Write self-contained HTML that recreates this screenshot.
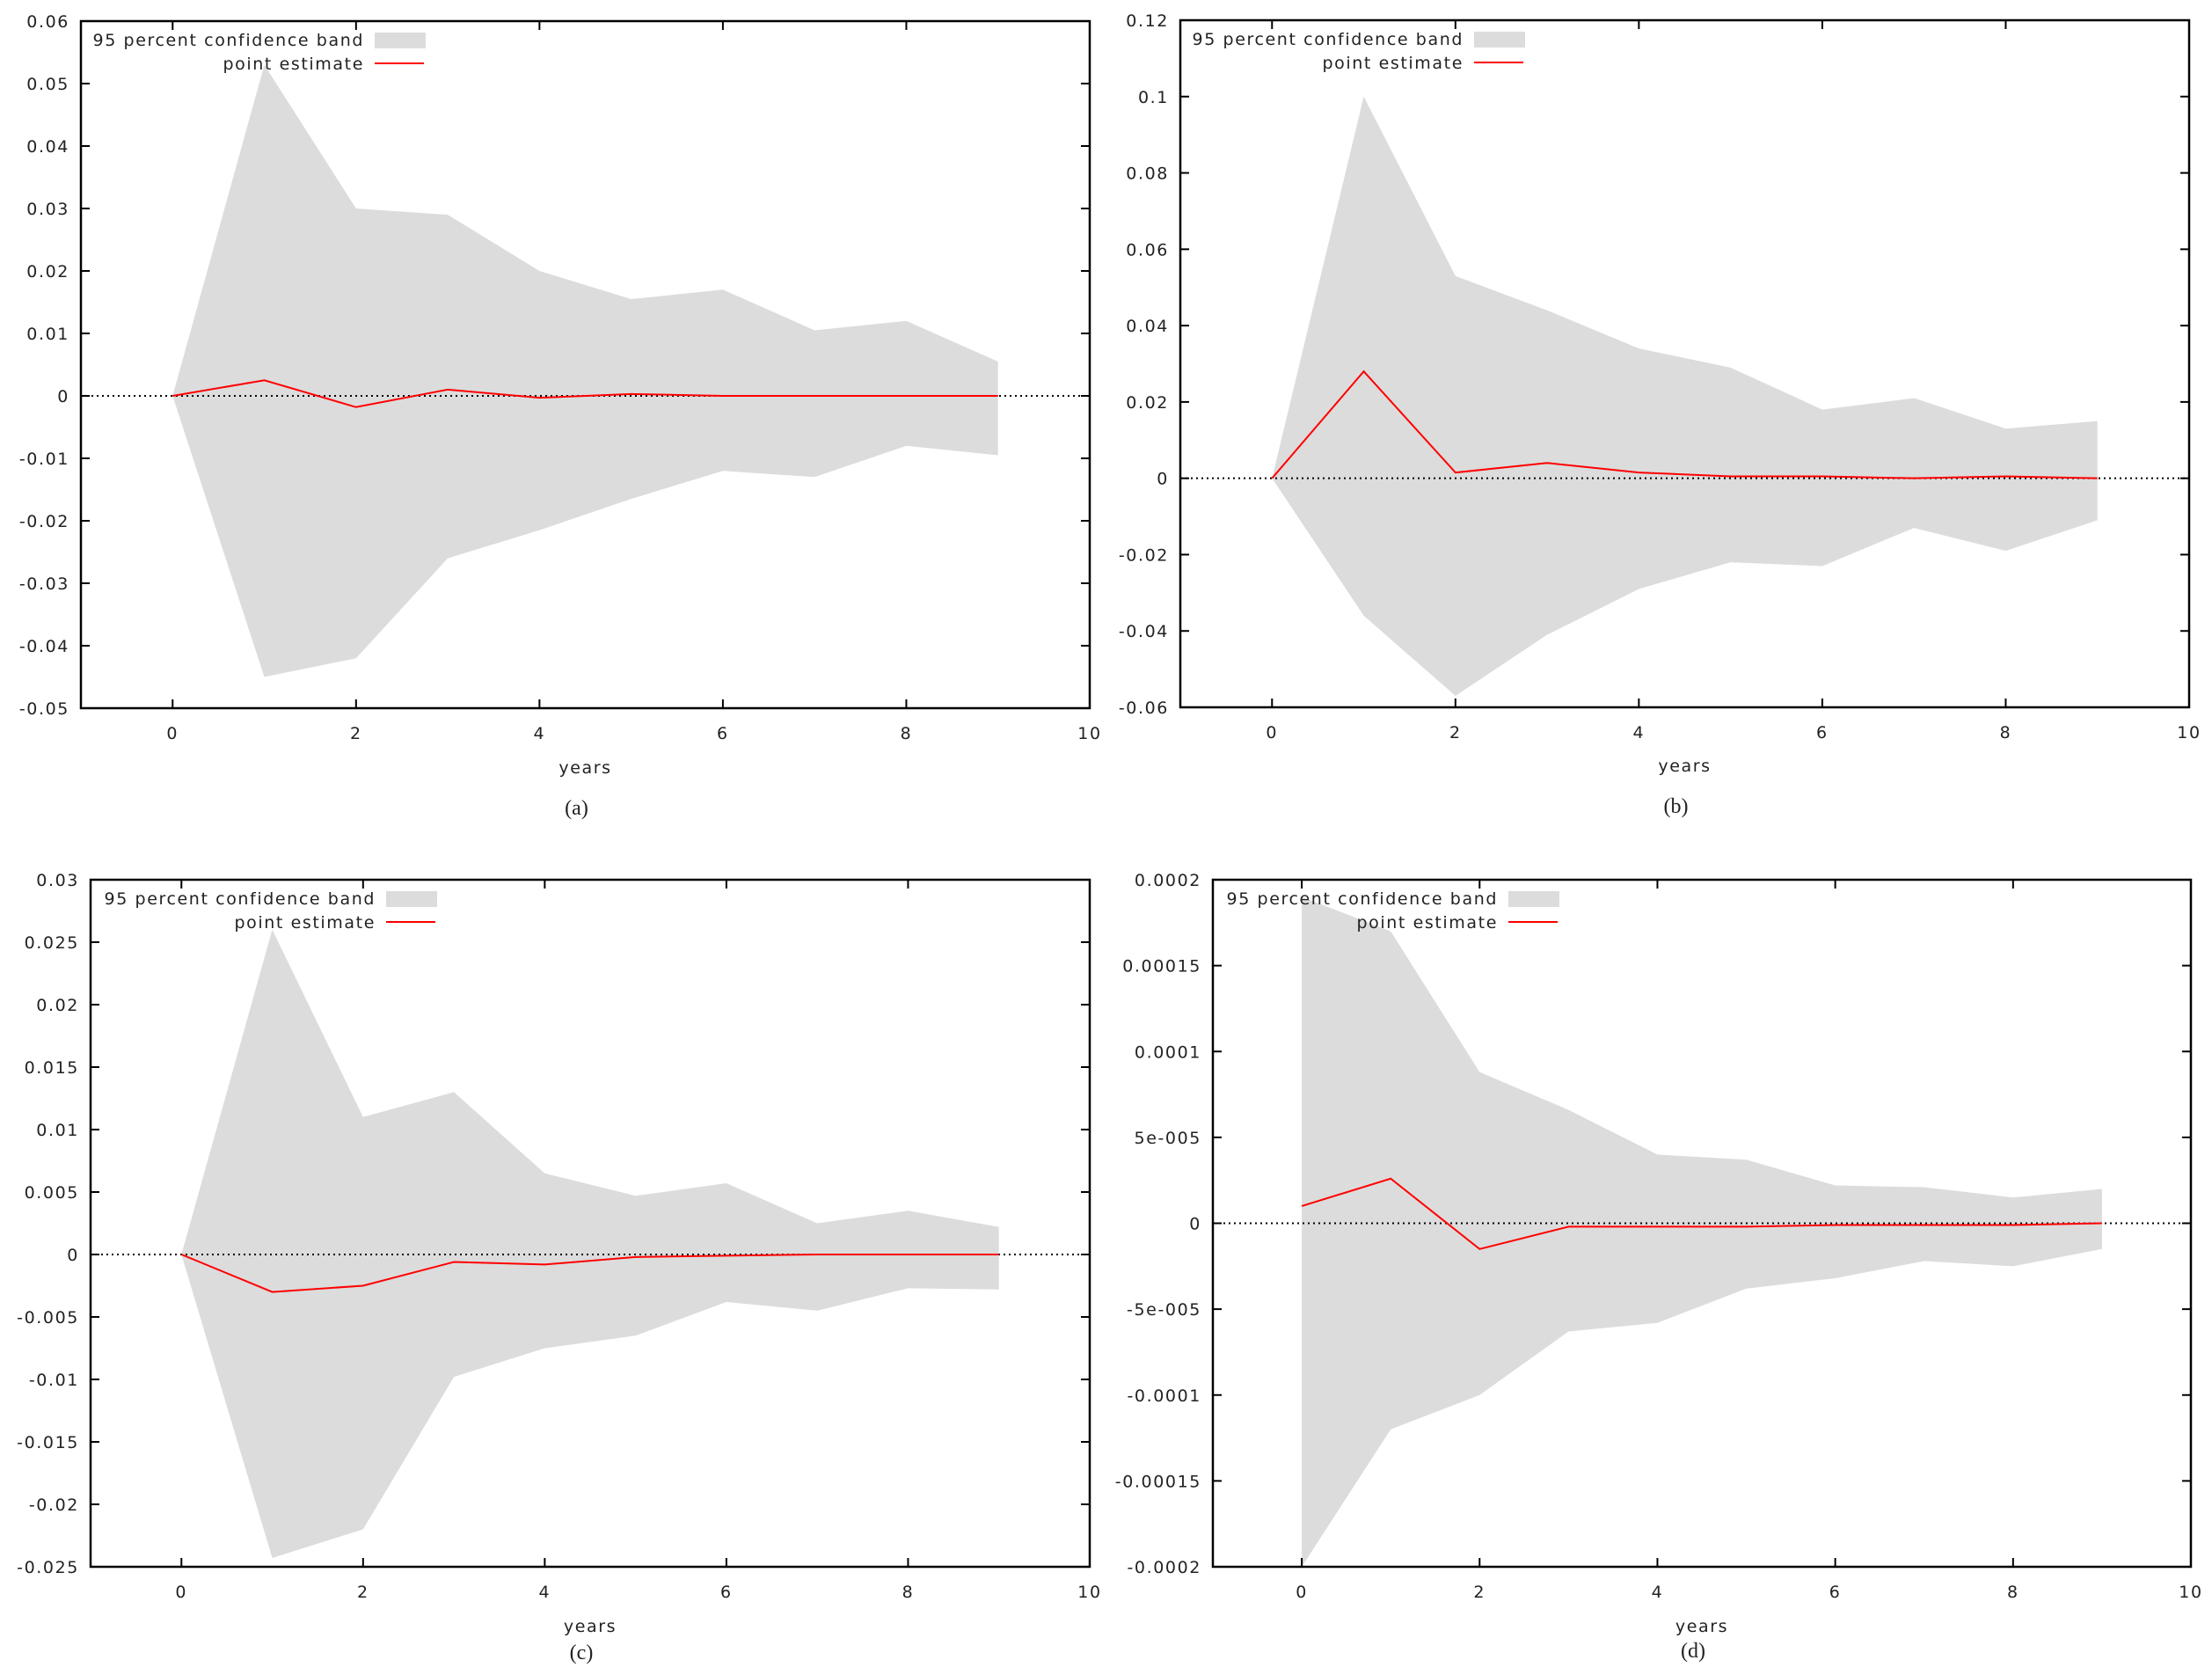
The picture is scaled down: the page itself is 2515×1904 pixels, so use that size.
<!DOCTYPE html>
<html><head><meta charset="utf-8">
<style>
html,body{margin:0;padding:0;background:#fff;}
svg{display:block;}
text{font-family:"DejaVu Sans","Liberation Sans",sans-serif;fill:#222;letter-spacing:1.6px;}
</style></head>
<body>
<svg id="fig" width="2515" height="1904" viewBox="0 0 2515 1904" xmlns="http://www.w3.org/2000/svg"></svg>
<script>
const years = [0,1,2,3,4,5,6,7,8,9];
const xTicks = [0,2,4,6,8,10];

const upperA = [0,0.053,0.030,0.029,0.020,0.0155,0.017,0.0105,0.012,0.0055];
const lowerA = [0,-0.045,-0.042,-0.026,-0.0215,-0.0165,-0.012,-0.013,-0.008,-0.0095];
const pointA = [0,0.0025,-0.0018,0.001,-0.0003,0.0003,0,0,0,0];
const yTicksA = [-0.05,-0.04,-0.03,-0.02,-0.01,0,0.01,0.02,0.03,0.04,0.05,0.06];
const yLabelsA = ["-0.05","-0.04","-0.03","-0.02","-0.01","0","0.01","0.02","0.03","0.04","0.05","0.06"];

const upperB = [0,0.100,0.053,0.044,0.034,0.029,0.018,0.021,0.013,0.015];
const lowerB = [0,-0.036,-0.057,-0.041,-0.029,-0.022,-0.023,-0.013,-0.019,-0.011];
const pointB = [0,0.028,0.0015,0.004,0.0015,0.0005,0.0005,0,0.0005,0];
const yTicksB = [-0.06,-0.04,-0.02,0,0.02,0.04,0.06,0.08,0.1,0.12];
const yLabelsB = ["-0.06","-0.04","-0.02","0","0.02","0.04","0.06","0.08","0.1","0.12"];

const upperC = [0,0.026,0.011,0.013,0.0065,0.0047,0.0057,0.0025,0.0035,0.0022];
const lowerC = [0,-0.0243,-0.022,-0.0098,-0.0075,-0.0065,-0.0038,-0.0045,-0.0027,-0.0028];
const pointC = [0,-0.003,-0.0025,-0.0006,-0.0008,-0.0002,-0.0001,0,0,0];
const yTicksC = [-0.025,-0.02,-0.015,-0.01,-0.005,0,0.005,0.01,0.015,0.02,0.025,0.03];
const yLabelsC = ["-0.025","-0.02","-0.015","-0.01","-0.005","0","0.005","0.01","0.015","0.02","0.025","0.03"];

const upperD = [0.00019,0.00017,0.000088,0.000066,0.00004,0.000037,0.000022,0.000021,0.000015,0.00002];
const lowerD = [-0.0002,-0.00012,-0.0001,-0.000063,-0.000058,-0.000038,-0.000032,-0.000022,-0.000025,-0.000015];
const pointD = [0.00001,0.000026,-0.000015,-0.000002,-0.000002,-0.000002,-0.000001,-0.000001,-0.000001,0];
const yTicksD = [-0.0002,-0.00015,-0.0001,-0.00005,0,0.00005,0.0001,0.00015,0.0002];
const yLabelsD = ["-0.0002","-0.00015","-0.0001","-5e-005","0","5e-005","0.0001","0.00015","0.0002"];

const NS = "http://www.w3.org/2000/svg";
const fig = document.getElementById('fig');
function mk(tag, attrs, parent){
  const e = document.createElementNS(NS, tag);
  for (const k in attrs) e.setAttribute(k, attrs[k]);
  parent.appendChild(e);
  return e;
}

function panel(cfg){
  const g = mk('g', {}, fig);
  
  
  const L=cfg.l, R=cfg.r, T=cfg.t, B=cfg.b;
  const xs = v => L + (v - (-1)) / 11 * (R - L);
  const ys = v => B - (v - cfg.ymin) / (cfg.ymax - cfg.ymin) * (B - T);

  let d = '';
  years.forEach((x,i)=>{ d += (i?'L':'M') + xs(x) + ' ' + ys(cfg.upper[i]) + ' '; });
  for (let i = years.length-1; i >= 0; i--) d += 'L' + xs(years[i]) + ' ' + ys(cfg.lower[i]) + ' ';
  d += 'Z';
  const band = mk('path', {d:d, fill:'#dcdcdc', stroke:'none'}, g);
  
  

  const zl = mk('line', {x1:L, x2:R, y1:ys(0), y2:ys(0), stroke:'#000', 'stroke-width':2, 'stroke-dasharray':'2 4'}, g);
  
  

  const pts = years.map((x,i)=> xs(x) + ',' + ys(cfg.point[i])).join(' ');
  const pl = mk('polyline', {points:pts, fill:'none', stroke:'#ff0000', 'stroke-width':2}, g);
  
  

  const fr = mk('rect', {x:L, y:T, width:R-L, height:B-T, fill:'none', stroke:'#000', 'stroke-width':2.5}, g);
  
  

  cfg.yticks.forEach((v,i)=>{
    const y = ys(v);
    mk('line', {x1:L, x2:L+10, y1:y, y2:y, stroke:'#000', 'stroke-width':2}, g);
    mk('line', {x1:R, x2:R-10, y1:y, y2:y, stroke:'#000', 'stroke-width':2}, g);
    const t = mk('text', {x:L-13, y:y+7, 'text-anchor':'end', 'font-size':19}, g);
    t.textContent = cfg.ylabels[i];
    
    
  });
  xTicks.forEach(v=>{
    const x = xs(v);
    mk('line', {x1:x, x2:x, y1:B, y2:B-10, stroke:'#000', 'stroke-width':2}, g);
    mk('line', {x1:x, x2:x, y1:T, y2:T+10, stroke:'#000', 'stroke-width':2}, g);
    const t = mk('text', {x:x, y:B+35, 'text-anchor':'middle', 'font-size':19}, g);
    t.textContent = String(v);
    
    
  });
  const xt = mk('text', {x:(L+R)/2, y:cfg.yearsY, 'text-anchor':'middle', 'font-size':19}, g);
  xt.textContent = 'years';
  
  
  const cap = mk('text', {x:(L+R)/2 - 10, y:cfg.capY, 'text-anchor':'middle', 'font-size':24, style:'font-family:"Liberation Serif",serif;letter-spacing:0'}, g);
  cap.textContent = '(' + cfg.id + ')';
  
  

  const lx = cfg.legX, ly = T + 21;
  const l1 = mk('text', {x:lx, y:ly+7, 'text-anchor':'end', 'font-size':19}, g);
  l1.textContent = '95 percent confidence band';
  
  
  const sw = mk('rect', {x:lx+12, y:ly-8, width:58, height:18, fill:'#dcdcdc'}, g);
  
  
  const l2 = mk('text', {x:lx, y:ly+34, 'text-anchor':'end', 'font-size':19}, g);
  l2.textContent = 'point estimate';
  
  
  const ls = mk('line', {x1:lx+12, x2:lx+68, y1:ly+27, y2:ly+27, stroke:'#ff0000', 'stroke-width':2}, g);
  
  
}

panel({id:'a', l:92, r:1239, t:24, b:805, ymin:-0.05, ymax:0.06, upper:upperA, lower:lowerA, point:pointA, yticks:yTicksA, ylabels:yLabelsA, yearsY:879, capY:926, legX:414});
panel({id:'b', l:1342, r:2489, t:23, b:804, ymin:-0.06, ymax:0.12, upper:upperB, lower:lowerB, point:pointB, yticks:yTicksB, ylabels:yLabelsB, yearsY:877, capY:924, legX:1664});
panel({id:'c', l:103, r:1239, t:1000, b:1781, ymin:-0.025, ymax:0.03, upper:upperC, lower:lowerC, point:pointC, yticks:yTicksC, ylabels:yLabelsC, yearsY:1855, capY:1886, legX:427});
panel({id:'d', l:1379, r:2491, t:1000, b:1781, ymin:-0.0002, ymax:0.0002, upper:upperD, lower:lowerD, point:pointD, yticks:yTicksD, ylabels:yLabelsD, yearsY:1855, capY:1884, legX:1703});
</script>
</body></html>
